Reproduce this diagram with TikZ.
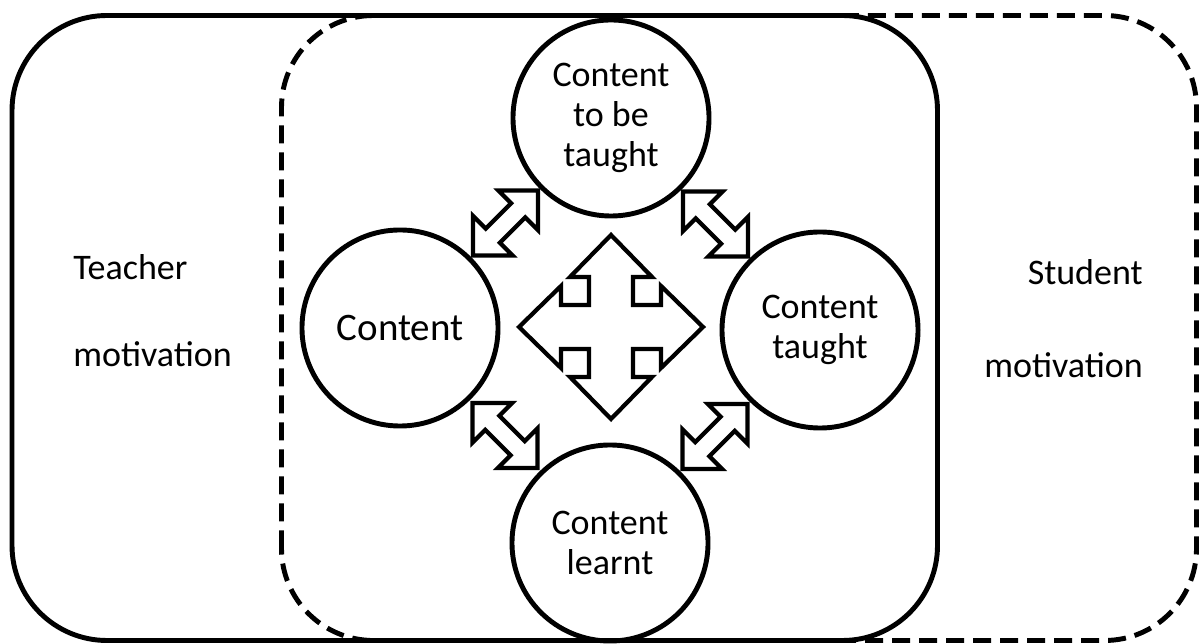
\documentclass[tikz,border=0pt]{standalone}
\usepackage{fontspec}
\setmainfont{Carlito}
\usetikzlibrary{calc}
\tikzstyle{frame}=[line width=3.5pt, rounded corners=2.375cm]
\tikzstyle{dashframe}=[line width=3.5pt, rounded corners=2.3cm, dash pattern=on 12.8pt off 6.4pt]
\tikzstyle{circ}=[circle, draw, line width=3.5pt, minimum size=4.9cm, inner sep=0pt, align=center, font=\fontsize{25.6}{28.5}\selectfont]
\tikzstyle{arr}=[line width=3pt, line join=miter]
\tikzstyle{lbl}=[inner sep=0pt, font=\fontsize{25.6}{28.5}\selectfont]
\tikzset{dblarrow/.pic={
 \draw[arr] (-46,0) -- (-18,28) -- (-18,10) -- (18,10) -- (18,28) -- (46,0)
  -- (18,-28) -- (18,-10) -- (-18,-10) -- (-18,-28) -- cycle;
}}

\begin{document}
\begin{tikzpicture}[x=0.025cm, y=0.025cm]
\useasboundingbox (0,0) rectangle (1200,643);
% the two motivation frames
\draw[dashframe] (281.5,2.5) rectangle (1196.5,627.5);
\draw[frame] (12,2.5) rectangle (937.5,627.5);
% the four contents
\node[circ] (top) at (611,525) {Content\\to be\\taught};
\node[circ, font=\fontsize{27.7}{30}\selectfont] (lft) at (400,315) {Content};
\node[circ] (rgt) at (820,313) {Content\\taught};
\node[circ] (bot) at (610,100) {Content\\learnt};
% links between them
\foreach \p/\q/\a in {lft/top/45, top/rgt/-45, lft/bot/-45, bot/rgt/45} {
 \pic[rotate=\a] at ($(\p)!0.5!(\q)$) {dblarrow};
}
% cross in the middle
\coordinate (c) at (611,316);
\draw[arr, shift={(c)}] (0,92) -- (41,50) -- (22,50) -- (22,22) -- (50,22) -- (50,41)
 -- (92,0) -- (50,-41) -- (50,-22) -- (22,-22) -- (22,-50) -- (41,-50)
 -- (0,-92) -- (-41,-50) -- (-22,-50) -- (-22,-22) -- (-50,-22) -- (-50,-41)
 -- (-92,0) -- (-50,41) -- (-50,22) -- (-22,22) -- (-22,50) -- (-41,50) -- cycle;
% side labels
\node[lbl, anchor=base west] (teach) at (73,363) {Teacher};
\node[lbl, anchor=base west] (teachmot) at (73,276) {motivation};
\node[lbl, anchor=base east] (stud) at (1143,358) {Student};
\node[lbl, anchor=base east] (studmot) at (1143,265) {motivation};
\end{tikzpicture}
\end{document}
